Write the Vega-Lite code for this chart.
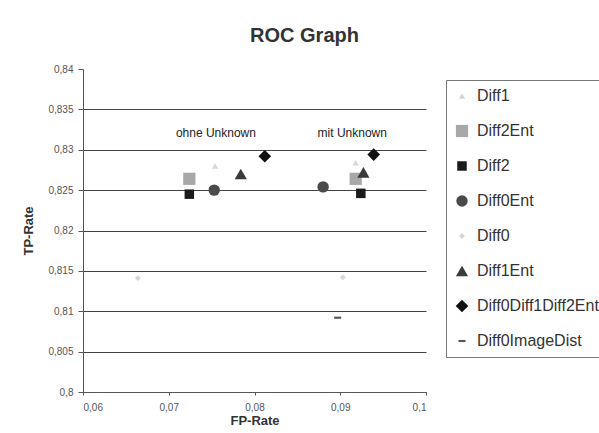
{
  "$schema": "https://vega.github.io/schema/vega-lite/v6.json",
  "autosize": "none",
  "width": 343,
  "height": 323,
  "padding": {"left": 83, "top": 69, "right": 173, "bottom": 41},
  "background": "white",
  "title": {
    "text": "ROC Graph",
    "fontSize": 20,
    "fontWeight": "bold",
    "font": "Liberation Sans",
    "color": "#333333",
    "anchor": "middle",
    "frame": "group",
    "dx": 50,
    "baseline": "alphabetic",
    "offset": 2
  },
  "datasets": {
    "points": [
      {"series": "Diff1", "fp": 0.0754, "tp": 0.8280},
      {"series": "Diff1", "fp": 0.0918, "tp": 0.8284},
      {"series": "Diff2Ent", "fp": 0.0724, "tp": 0.8264},
      {"series": "Diff2Ent", "fp": 0.0918, "tp": 0.8264},
      {"series": "Diff2", "fp": 0.0724, "tp": 0.8245},
      {"series": "Diff2", "fp": 0.0924, "tp": 0.8246},
      {"series": "Diff0Ent", "fp": 0.0753, "tp": 0.8250},
      {"series": "Diff0Ent", "fp": 0.0880, "tp": 0.8254},
      {"series": "Diff0", "fp": 0.0664, "tp": 0.8141},
      {"series": "Diff0", "fp": 0.0903, "tp": 0.8142},
      {"series": "Diff1Ent", "fp": 0.0784, "tp": 0.8270},
      {"series": "Diff1Ent", "fp": 0.0927, "tp": 0.8272},
      {"series": "Diff0Diff1Diff2Ent", "fp": 0.0812, "tp": 0.8292},
      {"series": "Diff0Diff1Diff2Ent", "fp": 0.0939, "tp": 0.8294},
      {"series": "Diff0ImageDist", "fp": 0.0897, "tp": 0.8092}
    ],
    "notes": [
      {"label": "ohne Unknown", "fp": 0.0755, "tp": 0.8321},
      {"label": "mit Unknown", "fp": 0.0914, "tp": 0.8321}
    ]
  },
  "layer": [
    {
      "data": {"name": "points"},
      "mark": {"type": "point", "filled": true, "opacity": 1, "strokeWidth": 0},
      "encoding": {
        "x": {
          "field": "fp", "type": "quantitative",
          "scale": {"domain": [0.06, 0.1], "nice": false, "zero": false},
          "axis": {
            "title": "FP-Rate",
            "values": [0.06, 0.07, 0.08, 0.09, 0.1],
            "labelExpr": "replace(format(datum.value, '~f'), '.', ',')",
            "grid": false,
            "tickSize": 3,
            "labelPadding": 7,
            "titlePadding": 2
          }
        },
        "y": {
          "field": "tp", "type": "quantitative",
          "scale": {"domain": [0.8, 0.84], "nice": false, "zero": false},
          "axis": {
            "title": "TP-Rate",
            "values": [0.8, 0.805, 0.81, 0.815, 0.82, 0.825, 0.83, 0.835, 0.84],
            "labelExpr": "replace(format(datum.value, '~f'), '.', ',')",
            "grid": true,
            "gridColor": "#444444",
            "gridWidth": 1,
            "gridOpacity": {"condition": {"test": "datum.value > 0.8395", "value": 0}, "value": 1},
            "tickSize": 5,
            "labelPadding": 5,
            "titlePadding": 12
          }
        },
        "shape": {
          "field": "series", "type": "nominal",
          "scale": {
            "domain": ["Diff1", "Diff2Ent", "Diff2", "Diff0Ent", "Diff0", "Diff1Ent", "Diff0Diff1Diff2Ent", "Diff0ImageDist"],
            "range": ["triangle-up", "square", "square", "circle", "diamond", "triangle-up", "diamond", "M-1,-0.3H1V0.3H-1Z"]
          }
        },
        "color": {
          "field": "series", "type": "nominal",
          "scale": {
            "domain": ["Diff1", "Diff2Ent", "Diff2", "Diff0Ent", "Diff0", "Diff1Ent", "Diff0Diff1Diff2Ent", "Diff0ImageDist"],
            "range": ["#d6d6d6", "#a8a8a8", "#1a1a1a", "#4a4a4a", "#d6d6d6", "#3a3a3a", "#111111", "#555555"]
          }
        },
        "size": {
          "field": "series", "type": "nominal",
          "scale": {
            "type": "ordinal",
            "domain": ["Diff1", "Diff2Ent", "Diff2", "Diff0Ent", "Diff0", "Diff1Ent", "Diff0Diff1Diff2Ent", "Diff0ImageDist"],
            "range": [40, 150, 90, 130, 35, 150, 160, 50]
          }
        }
      }
    },
    {
      "data": {"name": "notes"},
      "mark": {"type": "text", "fontSize": 12, "font": "Liberation Sans", "color": "#222222", "align": "center", "baseline": "middle"},
      "encoding": {
        "x": {"field": "fp", "type": "quantitative"},
        "y": {"field": "tp", "type": "quantitative"},
        "text": {"field": "label", "type": "nominal"}
      }
    }
  ],
  "config": {
    "view": {"stroke": null},
    "font": "Liberation Sans",
    "axis": {
      "labelFont": "Liberation Sans",
      "labelFontSize": 10,
      "labelColor": "#555555",
      "titleFont": "Liberation Sans",
      "titleFontSize": 13,
      "titleFontWeight": "bold",
      "titleColor": "#333333",
      "domainColor": "#555555",
      "tickColor": "#555555"
    },
    "legend": {
      "orient": "none",
      "legendX": 363,
      "legendY": 11,
      "title": null,
      "strokeColor": "#777777",
      "fillColor": "white",
      "padding": 8,
      "rowPadding": 19,
      "labelFont": "Liberation Sans",
      "labelFontSize": 16,
      "labelColor": "#333333",
      "labelOffset": 7,
      "labelLimit": 400,
      "symbolStrokeWidth": 0
    }
  }
}
